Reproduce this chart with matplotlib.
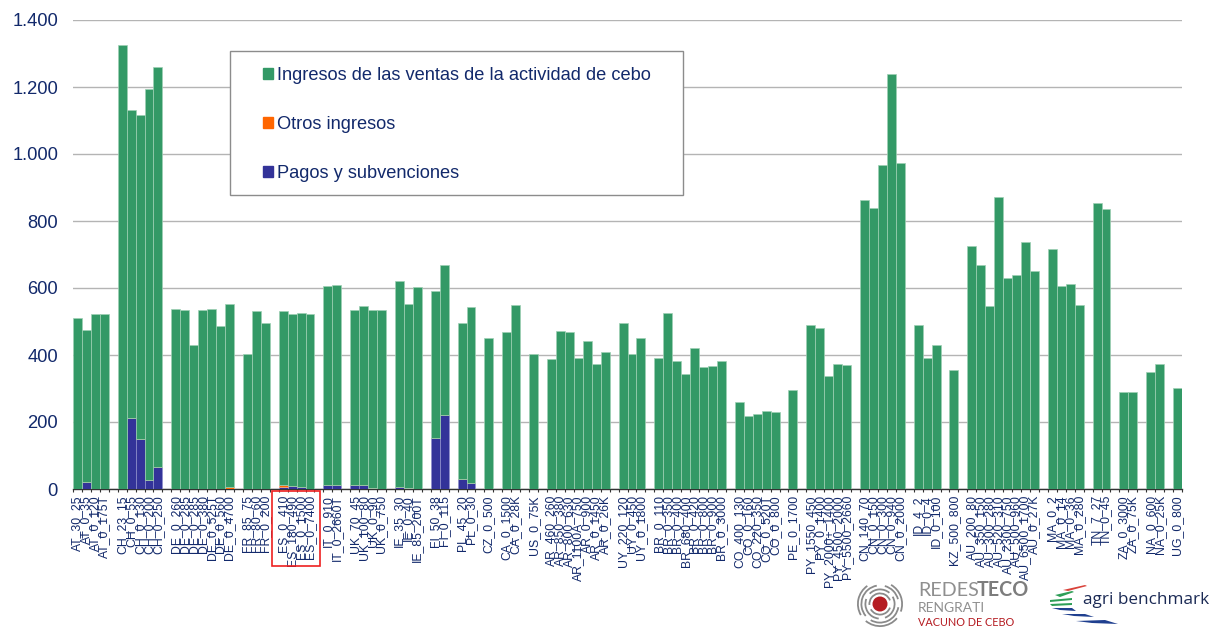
import numpy as np
import matplotlib
matplotlib.use("Agg")
import matplotlib.pyplot as plt
from matplotlib.patches import Patch, Rectangle, Circle, Wedge, Polygon

W, H = 1219, 630
NAVY = "#12296B"
GREEN, ORANGE, BLUE = "#339966", "#FF6600", "#333399"

labels = ["AT_30_25","AT_0_35","AT_0_120","AT_0_175T","",
 "CH_23_15","CH_0_55","CH_0_130","CH_0_200","CH_0_250","",
 "DE_0_260","DE_0_285","DE_0_285","DE_0_380","DE_0_525T","DE_0_560","DE_0_4700","",
 "FR_85_75","FR_80_60","FR_0_200","",
 "ES_0_410","ES_180_490","ES_0_1500","ES_0_7400","",
 "IT_0_910","IT_0_2660T","",
 "UK_70_45","UK_100_80","UK_0_90","UK_0_750","",
 "IE_35_30","IE_0_40","IE_85_200T","",
 "FI_50_38","FI_0_115","",
 "PL_45_20","PL_0_30","",
 "CZ_0_500","",
 "CA_0_1500","CA_0_28K","",
 "US_0_75K","",
 "AR_460_260","AR_850_380","AR_800_630","AR_1100A_750","AR_0_900","AR_0_1450","AR_0_26K","",
 "UY_220_120","UY_0_450","UY_0_1800","",
 "BR_0_110","BR_0_350","BR_0_400","BR_680_400","BR_0_420","BR_0_800","BR_0_900","BR_0_3000","",
 "CO_400_130","CO_0_160","CO_220_350","CO_0_520T","CO_0_800","",
 "PE_0_1700","",
 "PY_1550_450","PY_0_1400","PY_2000+_1400","PY_4500_2000","PY_5500_2660","",
 "CN_140_70","CN_0_150","CN_0_300","CN_0_940","CN_0_2000","",
 "ID_4_2","ID_0_4","ID_0_100","",
 "KZ_500_800","",
 "AU_200_80","AU_350_150","AU_300_280","AU_520_310","AU_2300_750","AU_500_960","AU_6500_1700","AU_0_27K","",
 "MA_0_2","MA_0_14","MA_0_36","MA_0_280","",
 "TN_7_27","TN_0_45","",
 "ZA_0_3000","ZA_0_75K","",
 "NA_0_600","NA_0_25K","",
 "UG_0_800"]

pagos = [0,22,0,0,0,
 0,211,148,27,65,0,
 0,0,0,0,0,0,0,0,
 0,0,0,0,
 6,10,5,1,0,
 12,12,0,
 13,12,2,0,0,
 7,4,0,0,
 153,222,0,
 29,18,0,
 0,0,
 0,0,0,
 0,0,
 0,0,0,0,0,0,0,0,
 0,0,0,0,
 0,0,0,0,0,0,0,0,0,
 0,0,0,0,0,0,
 0,0,
 0,0,0,0,0,0,
 0,0,0,0,0,0,
 0,0,0,0,
 0,0,
 0,0,0,0,0,0,0,0,0,
 0,0,0,0,0,
 0,0,0,
 0,0,0,
 0,0,0,
 0]

otros = [0]*17 + [5] + [0]*5 + [7] + [0]*100

ingresos = [510,452,522,522,0,
 1325,919,967,1168,1195,0,
 538,535,430,535,537,488,547,0,
 403,530,497,0,
 517,512,520,521,0,
 593,598,0,
 520,533,533,535,0,
 613,548,602,0,
 437,446,0,
 466,525,0,
 450,0,
 468,550,0,
 403,0,
 388,472,470,392,443,372,410,0,
 495,402,450,0,
 392,525,383,342,420,363,368,383,0,
 260,217,225,233,230,0,
 297,0,
 490,480,337,372,370,0,
 862,840,968,1240,973,0,
 490,392,430,0,
 355,0,
 725,668,545,873,630,640,737,650,0,
 715,605,613,550,0,
 855,835,0,
 290,290,0,
 350,372,0,
 302]

yticks = [0,200,400,600,800,1000,1200,1400]
ytick_labels = ["0","200","400","600","800","1.000","1.200","1.400"]
legend_labels = ["Ingresos de las ventas de la actividad de cebo","Otros ingresos","Pagos y subvenciones"]

plt.rcParams["font.family"] = ["Liberation Sans","DejaVu Sans"]
fig = plt.figure(figsize=(W/100, H/100), dpi=100, facecolor="white")
L, R, T, B = 73, 1182, 20, 489
ax = fig.add_axes([L/W, 1-B/H, (R-L)/W, (B-T)/H])

x = np.arange(len(labels))
p, o, g = np.array(pagos), np.array(otros), np.array(ingresos)
kw = dict(width=1.0, linewidth=0.5, zorder=3)
ax.bar(x, p, color=BLUE, edgecolor="#8f8fcc", **kw)
ax.bar(x, o, bottom=p, color=ORANGE, edgecolor="#ffb080", **kw)
ax.bar(x, g, bottom=p+o, color=GREEN, edgecolor="#9fd0b4", **kw)

ax.set_xlim(-0.5, len(labels)-0.5)
ax.set_ylim(0, 1400)
ax.set_yticks(yticks, ytick_labels, fontsize=13.2, color=NAVY)
ax.tick_params(axis="y", length=0, pad=10.8)
ax.grid(axis="y", color="#b4b4b4", linewidth=1.0, zorder=0)
ax.set_axisbelow(True)
for s in ("top","left","right"):
    ax.spines[s].set_visible(False)
ax.spines["bottom"].set_color("#333333")
ax.spines["bottom"].set_linewidth(1.0)
ax.set_xticks(np.arange(len(labels)+1)-0.5, [""]*(len(labels)+1))
ax.tick_params(axis="x", which="major", length=2.5, width=0.8, color="#333333")
ax.set_xticks(x, labels, minor=True, rotation=90, fontsize=8.8, color=NAVY, va="top", ha="center")
ax.tick_params(axis="x", which="minor", length=0, pad=4.4)

# overlay in pixel coordinates for the furniture
ov = fig.add_axes([0,0,1,1], facecolor="none")
ov.set_xlim(0,W); ov.set_ylim(H,0); ov.axis("off")
ov.add_patch(Rectangle((230,51),453,144,fc="white",ec="#8c8c8c",lw=1.0,zorder=1))
ov.add_patch(Rectangle((272,491),48,75,fc="none",ec="#EE2020",lw=1.2,zorder=2))

handles = [Patch(color=c) for c in (GREEN,ORANGE,BLUE)]
ov.legend(handles, legend_labels, loc="center left", bbox_to_anchor=(263/W, 1-124.5/H),
          bbox_transform=fig.transFigure, frameon=False, fontsize=13.15, labelcolor=NAVY,
          borderpad=0, borderaxespad=0, handlelength=0.55, handleheight=0.55,
          handletextpad=0.2, labelspacing=1.75)

# logos
cx, cy = 880, 604
ov.add_patch(Circle((cx,cy),7.5,fc="#B51C22",ec="none",zorder=3))
for r,segs in ((11.5,[(20,150),(175,340)]),(15.5,[(-30,70),(95,200),(225,310)]),(19.5,[(10,120),(140,260),(285,345)]),(23,[(40,130),(150,235),(300,20)])):
    for a,b in segs:
        ov.add_patch(Wedge((cx,cy),r,a,b,width=1.8,fc="#8a8a8a",ec="none",zorder=3))
ov.text(918,590,"REDES",fontsize=14.2,color="#8f8f8f",family="Lato",va="center",ha="left")
ov.text(977,590,"TECO",fontsize=14.2,color="#7d7d7d",family="Lato",weight="bold",va="center",ha="left")
ov.text(918,608,"RENGRATI",fontsize=10,color="#8f8f8f",family="Lato",va="center",ha="left")
ov.text(918,622,"VACUNO DE CEBO",fontsize=7.8,color="#B51C22",family="Lato",va="center",ha="left")
ov.text(1083,600,"agri benchmark",fontsize=12.3,color="#1B2A55",family="Open Sans",va="center",ha="left")
swooshes = [("#D9423A",[(1063,590),(1085,585),(1087,586),(1068,591)]),
            ("#2E9E57",[(1055,595),(1072,591),(1074,592),(1060,597)]),
            ("#2E9E57",[(1050,600),(1072,598),(1072,600),(1050,602)]),
            ("#2E9E57",[(1050,604),(1072,603),(1072,605),(1052,606)]),
            ("#1F3F8F",[(1052,608),(1072,608),(1076,611),(1060,610)]),
            ("#1F3F8F",[(1062,614),(1085,614),(1094,617),(1074,616)]),
            ("#1F3F8F",[(1076,621),(1105,620),(1118,624),(1092,623)])]
for c,pts in swooshes:
    ov.add_patch(Polygon(pts,closed=True,fc=c,ec="none"))

fig.savefig("out.png", dpi=100)
